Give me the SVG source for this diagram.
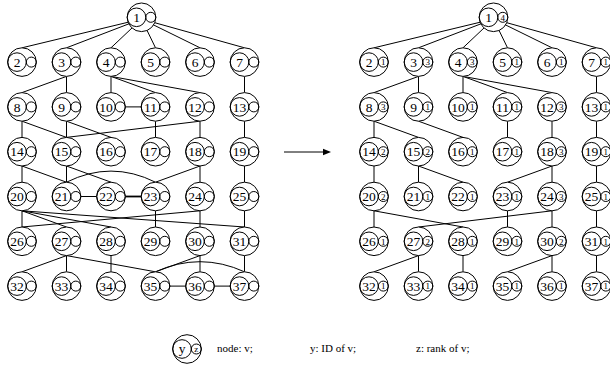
<svg xmlns="http://www.w3.org/2000/svg" xmlns:xlink="http://www.w3.org/1999/xlink" width="610" height="376" viewBox="0 0 610 376">
<style>
.e{fill:none;stroke:#000;stroke-width:1}
.t{stroke-width:1.8}
.id{font-family:"Liberation Serif",serif;font-size:13.5px;text-anchor:middle;fill:#000}
.rk{font-family:"Liberation Serif",serif;font-size:9px;text-anchor:middle;fill:#000}
.lg{font-family:"Liberation Serif",serif;font-size:11px;fill:#000}
</style>
<defs>
<g id="nd">
<circle cx="0" cy="0" r="14.3" fill="#fff" stroke="#000" stroke-width="1"/>
<circle cx="-5" cy="0" r="9.3" fill="none" stroke="#000" stroke-width="1"/>
<circle cx="9.3" cy="0" r="5" fill="none" stroke="#000" stroke-width="1"/>
</g>
</defs>
<rect width="610" height="376" fill="#fff"/>
<g id="connectors">
<path class="e" d="M141.5,19L22,47.8M141.5,19L66.5,47.8M141.5,19L111,47.8M141.5,19L155.5,47.8M141.5,19L200,47.8M141.5,19L244.5,47.8
M66.5,76.4L22,92.6M66.5,76.4L66.5,92.6M111,76.4L111,92.6M111,76.4L155.5,92.6M111,76.4L200,92.6M125.3,106.9L141.2,106.9M244.5,76.4L244.5,92.6
M22,121.2L22,137.4M22,121.2L66.5,137.4M66.5,121.2L66.5,137.4M66.5,121.2L111,137.4M155.5,121.2L155.5,137.4M200,121.2L66.5,137.4M200,121.2L200,137.4M244.5,121.2L244.5,137.4
M22,166L22,182.2M22,166L66.5,182.2M66.5,166L66.5,182.2M66.5,166L111,182.2M66.5,182.2Q111,160 155.5,182.2M200,166L155.5,182.2M200,166L200,182.2M244.5,166L244.5,182.2
M80.8,196.5L96.7,196.5
M22,210.8L22,227M22,210.8L66.5,227M22,210.8L111,227M22,210.8L244.5,227M200,210.8L22,227M155.5,210.8L155.5,227M200,210.8L200,227M244.5,210.8L244.5,227
M66.5,255.6L22,271.8M66.5,255.6L66.5,271.8M66.5,255.6L155.5,271.8M111,255.6L111,271.8M200,255.6L155.5,271.8M200,255.6L200,271.8M244.5,255.6L244.5,271.8
M169.8,286.1L185.7,286.1M214.3,286.1L230.2,286.1M155.5,271.8Q200,251.6 244.5,271.8"/>
<path class="e t" d="M125.3,196.5L141.2,196.5"/>
<path class="e" d="M493.5,19L374,47.8M493.5,19L418.5,47.8M493.5,19L463,47.8M493.5,19L507.5,47.8M493.5,19L552,47.8M493.5,19L596.5,47.8
M418.5,76.4L374,92.6M418.5,76.4L418.5,92.6M463,76.4L463,92.6M463,76.4L507.5,92.6M463,76.4L552,92.6M596.5,76.4L596.5,92.6
M374,121.2L374,137.4M374,121.2L418.5,137.4M418.5,121.2L463,137.4M507.5,121.2L507.5,137.4M552,121.2L552,137.4M596.5,121.2L596.5,137.4
M374,166L374,182.2M418.5,166L418.5,182.2M418.5,166L463,182.2M552,166L507.5,182.2M552,166L552,182.2M596.5,166L596.5,182.2
M374,210.8L374,227M374,210.8L463,227M552,210.8L418.5,227M507.5,210.8L507.5,227M552,210.8L552,227M596.5,210.8L596.5,227
M418.5,255.6L374,271.8M418.5,255.6L418.5,271.8M463,255.6L463,271.8M552,255.6L507.5,271.8M552,255.6L552,271.8M596.5,255.6L596.5,271.8"/>
<path class="e" d="M284,152L324,152"/>
<polygon points="331,152 323,148.8 323,155.2" fill="#000"/>
</g>
<g id="L1" transform="translate(141.5,17.3)"><use href="#nd"/><text class="id" x="-5" y="4.6">1</text></g>
<g id="L2" transform="translate(22,62.1)"><use href="#nd"/><text class="id" x="-5" y="4.6">2</text></g>
<g id="L3" transform="translate(66.5,62.1)"><use href="#nd"/><text class="id" x="-5" y="4.6">3</text></g>
<g id="L4" transform="translate(111,62.1)"><use href="#nd"/><text class="id" x="-5" y="4.6">4</text></g>
<g id="L5" transform="translate(155.5,62.1)"><use href="#nd"/><text class="id" x="-5" y="4.6">5</text></g>
<g id="L6" transform="translate(200,62.1)"><use href="#nd"/><text class="id" x="-5" y="4.6">6</text></g>
<g id="L7" transform="translate(244.5,62.1)"><use href="#nd"/><text class="id" x="-5" y="4.6">7</text></g>
<g id="L8" transform="translate(22,106.9)"><use href="#nd"/><text class="id" x="-5" y="4.6">8</text></g>
<g id="L9" transform="translate(66.5,106.9)"><use href="#nd"/><text class="id" x="-5" y="4.6">9</text></g>
<g id="L10" transform="translate(111,106.9)"><use href="#nd"/><text class="id" x="-5" y="4.6">10</text></g>
<g id="L11" transform="translate(155.5,106.9)"><use href="#nd"/><text class="id" x="-5" y="4.6">11</text></g>
<g id="L12" transform="translate(200,106.9)"><use href="#nd"/><text class="id" x="-5" y="4.6">12</text></g>
<g id="L13" transform="translate(244.5,106.9)"><use href="#nd"/><text class="id" x="-5" y="4.6">13</text></g>
<g id="L14" transform="translate(22,151.7)"><use href="#nd"/><text class="id" x="-5" y="4.6">14</text></g>
<g id="L15" transform="translate(66.5,151.7)"><use href="#nd"/><text class="id" x="-5" y="4.6">15</text></g>
<g id="L16" transform="translate(111,151.7)"><use href="#nd"/><text class="id" x="-5" y="4.6">16</text></g>
<g id="L17" transform="translate(155.5,151.7)"><use href="#nd"/><text class="id" x="-5" y="4.6">17</text></g>
<g id="L18" transform="translate(200,151.7)"><use href="#nd"/><text class="id" x="-5" y="4.6">18</text></g>
<g id="L19" transform="translate(244.5,151.7)"><use href="#nd"/><text class="id" x="-5" y="4.6">19</text></g>
<g id="L20" transform="translate(22,196.5)"><use href="#nd"/><text class="id" x="-5" y="4.6">20</text></g>
<g id="L21" transform="translate(66.5,196.5)"><use href="#nd"/><text class="id" x="-5" y="4.6">21</text></g>
<g id="L22" transform="translate(111,196.5)"><use href="#nd"/><text class="id" x="-5" y="4.6">22</text></g>
<g id="L23" transform="translate(155.5,196.5)"><use href="#nd"/><text class="id" x="-5" y="4.6">23</text></g>
<g id="L24" transform="translate(200,196.5)"><use href="#nd"/><text class="id" x="-5" y="4.6">24</text></g>
<g id="L25" transform="translate(244.5,196.5)"><use href="#nd"/><text class="id" x="-5" y="4.6">25</text></g>
<g id="L26" transform="translate(22,241.3)"><use href="#nd"/><text class="id" x="-5" y="4.6">26</text></g>
<g id="L27" transform="translate(66.5,241.3)"><use href="#nd"/><text class="id" x="-5" y="4.6">27</text></g>
<g id="L28" transform="translate(111,241.3)"><use href="#nd"/><text class="id" x="-5" y="4.6">28</text></g>
<g id="L29" transform="translate(155.5,241.3)"><use href="#nd"/><text class="id" x="-5" y="4.6">29</text></g>
<g id="L30" transform="translate(200,241.3)"><use href="#nd"/><text class="id" x="-5" y="4.6">30</text></g>
<g id="L31" transform="translate(244.5,241.3)"><use href="#nd"/><text class="id" x="-5" y="4.6">31</text></g>
<g id="L32" transform="translate(22,286.1)"><use href="#nd"/><text class="id" x="-5" y="4.6">32</text></g>
<g id="L33" transform="translate(66.5,286.1)"><use href="#nd"/><text class="id" x="-5" y="4.6">33</text></g>
<g id="L34" transform="translate(111,286.1)"><use href="#nd"/><text class="id" x="-5" y="4.6">34</text></g>
<g id="L35" transform="translate(155.5,286.1)"><use href="#nd"/><text class="id" x="-5" y="4.6">35</text></g>
<g id="L36" transform="translate(200,286.1)"><use href="#nd"/><text class="id" x="-5" y="4.6">36</text></g>
<g id="L37" transform="translate(244.5,286.1)"><use href="#nd"/><text class="id" x="-5" y="4.6">37</text></g>
<g id="R1" transform="translate(493.5,17.3)"><use href="#nd"/><text class="id" x="-5" y="4.6">1</text><text class="rk" x="9.3" y="3.2">4</text></g>
<g id="R2" transform="translate(374,62.1)"><use href="#nd"/><text class="id" x="-5" y="4.6">2</text><text class="rk" x="9.3" y="3.2">1</text></g>
<g id="R3" transform="translate(418.5,62.1)"><use href="#nd"/><text class="id" x="-5" y="4.6">3</text><text class="rk" x="9.3" y="3.2">3</text></g>
<g id="R4" transform="translate(463,62.1)"><use href="#nd"/><text class="id" x="-5" y="4.6">4</text><text class="rk" x="9.3" y="3.2">3</text></g>
<g id="R5" transform="translate(507.5,62.1)"><use href="#nd"/><text class="id" x="-5" y="4.6">5</text><text class="rk" x="9.3" y="3.2">1</text></g>
<g id="R6" transform="translate(552,62.1)"><use href="#nd"/><text class="id" x="-5" y="4.6">6</text><text class="rk" x="9.3" y="3.2">1</text></g>
<g id="R7" transform="translate(596.5,62.1)"><use href="#nd"/><text class="id" x="-5" y="4.6">7</text><text class="rk" x="9.3" y="3.2">1</text></g>
<g id="R8" transform="translate(374,106.9)"><use href="#nd"/><text class="id" x="-5" y="4.6">8</text><text class="rk" x="9.3" y="3.2">3</text></g>
<g id="R9" transform="translate(418.5,106.9)"><use href="#nd"/><text class="id" x="-5" y="4.6">9</text><text class="rk" x="9.3" y="3.2">1</text></g>
<g id="R10" transform="translate(463,106.9)"><use href="#nd"/><text class="id" x="-5" y="4.6">10</text><text class="rk" x="9.3" y="3.2">1</text></g>
<g id="R11" transform="translate(507.5,106.9)"><use href="#nd"/><text class="id" x="-5" y="4.6">11</text><text class="rk" x="9.3" y="3.2">1</text></g>
<g id="R12" transform="translate(552,106.9)"><use href="#nd"/><text class="id" x="-5" y="4.6">12</text><text class="rk" x="9.3" y="3.2">3</text></g>
<g id="R13" transform="translate(596.5,106.9)"><use href="#nd"/><text class="id" x="-5" y="4.6">13</text><text class="rk" x="9.3" y="3.2">1</text></g>
<g id="R14" transform="translate(374,151.7)"><use href="#nd"/><text class="id" x="-5" y="4.6">14</text><text class="rk" x="9.3" y="3.2">2</text></g>
<g id="R15" transform="translate(418.5,151.7)"><use href="#nd"/><text class="id" x="-5" y="4.6">15</text><text class="rk" x="9.3" y="3.2">2</text></g>
<g id="R16" transform="translate(463,151.7)"><use href="#nd"/><text class="id" x="-5" y="4.6">16</text><text class="rk" x="9.3" y="3.2">1</text></g>
<g id="R17" transform="translate(507.5,151.7)"><use href="#nd"/><text class="id" x="-5" y="4.6">17</text><text class="rk" x="9.3" y="3.2">1</text></g>
<g id="R18" transform="translate(552,151.7)"><use href="#nd"/><text class="id" x="-5" y="4.6">18</text><text class="rk" x="9.3" y="3.2">3</text></g>
<g id="R19" transform="translate(596.5,151.7)"><use href="#nd"/><text class="id" x="-5" y="4.6">19</text><text class="rk" x="9.3" y="3.2">1</text></g>
<g id="R20" transform="translate(374,196.5)"><use href="#nd"/><text class="id" x="-5" y="4.6">20</text><text class="rk" x="9.3" y="3.2">2</text></g>
<g id="R21" transform="translate(418.5,196.5)"><use href="#nd"/><text class="id" x="-5" y="4.6">21</text><text class="rk" x="9.3" y="3.2">1</text></g>
<g id="R22" transform="translate(463,196.5)"><use href="#nd"/><text class="id" x="-5" y="4.6">22</text><text class="rk" x="9.3" y="3.2">1</text></g>
<g id="R23" transform="translate(507.5,196.5)"><use href="#nd"/><text class="id" x="-5" y="4.6">23</text><text class="rk" x="9.3" y="3.2">1</text></g>
<g id="R24" transform="translate(552,196.5)"><use href="#nd"/><text class="id" x="-5" y="4.6">24</text><text class="rk" x="9.3" y="3.2">3</text></g>
<g id="R25" transform="translate(596.5,196.5)"><use href="#nd"/><text class="id" x="-5" y="4.6">25</text><text class="rk" x="9.3" y="3.2">1</text></g>
<g id="R26" transform="translate(374,241.3)"><use href="#nd"/><text class="id" x="-5" y="4.6">26</text><text class="rk" x="9.3" y="3.2">1</text></g>
<g id="R27" transform="translate(418.5,241.3)"><use href="#nd"/><text class="id" x="-5" y="4.6">27</text><text class="rk" x="9.3" y="3.2">2</text></g>
<g id="R28" transform="translate(463,241.3)"><use href="#nd"/><text class="id" x="-5" y="4.6">28</text><text class="rk" x="9.3" y="3.2">1</text></g>
<g id="R29" transform="translate(507.5,241.3)"><use href="#nd"/><text class="id" x="-5" y="4.6">29</text><text class="rk" x="9.3" y="3.2">1</text></g>
<g id="R30" transform="translate(552,241.3)"><use href="#nd"/><text class="id" x="-5" y="4.6">30</text><text class="rk" x="9.3" y="3.2">2</text></g>
<g id="R31" transform="translate(596.5,241.3)"><use href="#nd"/><text class="id" x="-5" y="4.6">31</text><text class="rk" x="9.3" y="3.2">1</text></g>
<g id="R32" transform="translate(374,286.1)"><use href="#nd"/><text class="id" x="-5" y="4.6">32</text><text class="rk" x="9.3" y="3.2">1</text></g>
<g id="R33" transform="translate(418.5,286.1)"><use href="#nd"/><text class="id" x="-5" y="4.6">33</text><text class="rk" x="9.3" y="3.2">1</text></g>
<g id="R34" transform="translate(463,286.1)"><use href="#nd"/><text class="id" x="-5" y="4.6">34</text><text class="rk" x="9.3" y="3.2">1</text></g>
<g id="R35" transform="translate(507.5,286.1)"><use href="#nd"/><text class="id" x="-5" y="4.6">35</text><text class="rk" x="9.3" y="3.2">1</text></g>
<g id="R36" transform="translate(552,286.1)"><use href="#nd"/><text class="id" x="-5" y="4.6">36</text><text class="rk" x="9.3" y="3.2">1</text></g>
<g id="R37" transform="translate(596.5,286.1)"><use href="#nd"/><text class="id" x="-5" y="4.6">37</text><text class="rk" x="9.3" y="3.2">1</text></g>
<g id="legend">
<g id="legend-node" transform="translate(187,349)"><use href="#nd"/><text class="id" x="-5" y="4">y</text><text class="rk" x="9.3" y="2.8">z</text></g>
<text class="lg" x="217" y="352">node: v;</text>
<text class="lg" x="310" y="352">y: ID of v;</text>
<text class="lg" x="416" y="352">z: rank of v;</text>
</g>
</svg>
